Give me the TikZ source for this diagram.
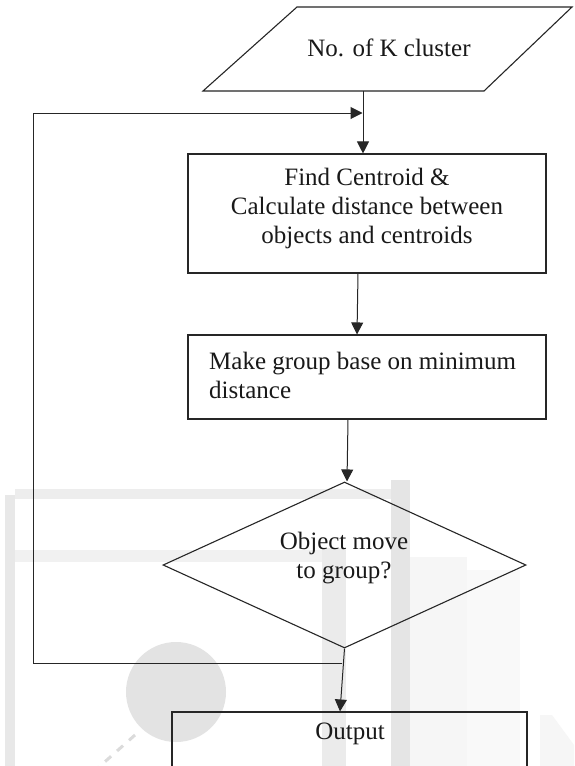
\documentclass[tikz,border=0pt]{standalone}
\usepackage{fontspec}
\setmainfont{Liberation Serif}
\usetikzlibrary{shapes.geometric,arrows.meta}
\begin{document}
\begin{tikzpicture}[x=1pt,y=-1pt,
  shp/.style={draw=black!85,line width=1.1pt},
  box/.style={shp,rectangle,inner sep=0pt},
  txt/.style={font=\fontsize{25}{29}\selectfont,inner sep=0pt,text=black!90},
  arr/.style={draw=black!85,line width=1pt,-{Triangle[length=12pt,width=12pt]}},
  ln/.style={draw=black!85,line width=1pt}]
\useasboundingbox (0,0) rectangle (574,766);
\clip (0,0) rectangle (574,766);
\fill[white] (0,0) rectangle (574,766);
% faint watermark
\fill[gray!20] (391,480) rectangle (410,766);
\fill[gray!16] (322,548) rectangle (346,766);
\fill[gray!18] (5,495) rectangle (15,766);
\fill[gray!14] (15,489) rectangle (391,499);
\fill[gray!11] (15,550) rectangle (322,562);
\fill[gray!7] (410,557) rectangle (467,766);
\fill[gray!5] (467,570) rectangle (520,766);
\fill[gray!7] (540,715) -- (552,715) -- (574,745) -- (574,766) -- (540,766) -- cycle;
\fill[gray!22] (176,692) circle (50pt);
\draw[gray!28,line width=3pt,dash pattern=on 8pt off 8pt] (135,735) -- (90,775);
% input parallelogram
\coordinate (p1) at (297,7);
\coordinate (p2) at (572,7);
\coordinate (p3) at (484,91);
\coordinate (p4) at (203,91);
\draw[shp] (p1) -- (p2) -- (p3) -- (p4) -- cycle;
\node[txt] (in) at (389,48) {No. of K cluster};
\coordinate (inb) at (363,91);
% process boxes
\node[box,minimum width=358pt,minimum height=119pt] (b1) at (367,213.5) {};
\node[txt,align=center] (t1) at (367,208) {Find Centroid \&\\Calculate distance between\\objects and centroids};
\node[box,minimum width=358pt,minimum height=84pt] (b2) at (367,377) {};
\node[txt,align=left,anchor=west] (t2) at (209,375) {Make group base on minimum\\distance};
% decision
\node[shp,diamond,minimum width=363pt,minimum height=166pt,inner sep=0pt] (d) at (344.5,565) {};
\node[txt,align=center] (t3) at (344,558) {Object move\\to group?};
% output
\node[box,minimum width=355pt,minimum height=80pt] (out) at (349.5,752) {};
\node[txt] (t4) at (350,734) {Output};
% connectors
\draw[arr] (inb) -- (inb |- b1.north);
\draw[arr] ([xshift=-9pt]b1.south) -- ([xshift=-10pt]b2.north);
\draw[arr] ([xshift=-19pt]b2.south) -- ([xshift=2.5pt]d.north);
\draw[arr] (d.south) -- ([xshift=-9.5pt]out.north);
\coordinate (j) at (342,663);
\coordinate (lb) at (33,663);
\coordinate (lt) at (33,113);
\coordinate (m) at (362.5,113);
\draw[arr] (j) -- (lb) -- (lt) -- (m);
\end{tikzpicture}
\end{document}
